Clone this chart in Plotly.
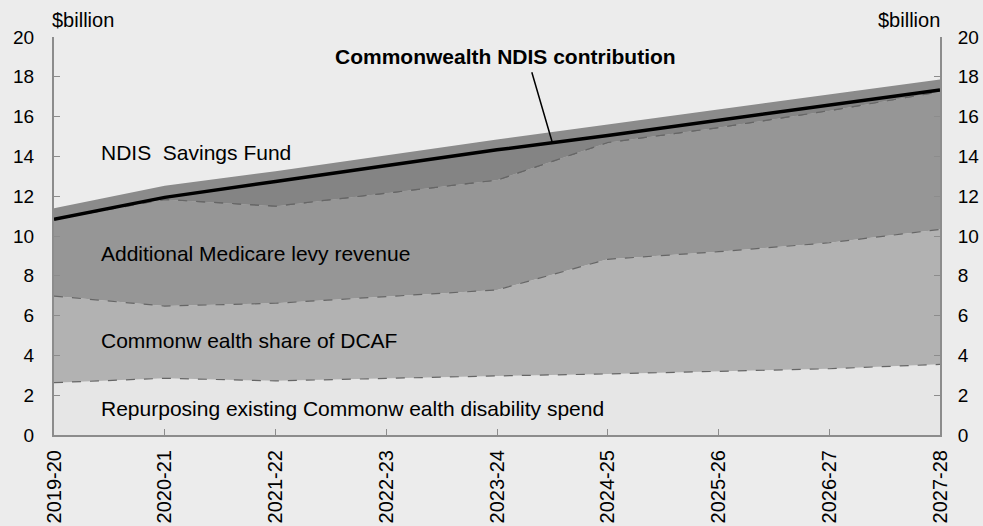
import numpy as np
import plotly.graph_objects as go

# Données ($ milliards)
annees = ['2019-20', '2020-21', '2021-22', '2022-23', '2023-24',
          '2024-25', '2025-26', '2026-27', '2027-28']
repurposing = [2.63, 2.85, 2.72, 2.85, 2.97, 3.07, 3.20, 3.33, 3.55]
dcaf = [4.35, 3.63, 3.90, 4.10, 4.32, 5.76, 6.01, 6.33, 6.78]
medicare = [3.86, 5.36, 4.88, 5.19, 5.52, 5.87, 6.24, 6.64, 6.92]
savings_fund = [0.55, 0.69, 1.75, 1.91, 2.04, 0.90, 0.90, 0.80, 0.62]
contribution = [10.84, 11.94, 12.74, 13.54, 14.33, 15.05, 15.80, 16.57, 17.34]
y_ticks = [0, 2, 4, 6, 8, 10, 12, 14, 16, 18, 20]

police = 'Liberation Sans, Arial, sans-serif'
trait = dict(color='#666666', width=1.2, dash='dash')

fig = go.Figure()

# Aires empilées
fig.add_trace(go.Scatter(x=annees, y=repurposing, stackgroup='s', mode='lines',
                         line=trait, fillcolor='#e6e6e6', name='Repurposing'))
fig.add_trace(go.Scatter(x=annees, y=dcaf, stackgroup='s', mode='lines',
                         line=trait, fillcolor='#b2b2b2', name='DCAF'))
fig.add_trace(go.Scatter(x=annees, y=medicare, stackgroup='s', mode='lines',
                         line=trait, fillcolor='#969696', name='Medicare'))
fig.add_trace(go.Scatter(x=annees, y=savings_fund, stackgroup='s', mode='lines',
                         line=dict(width=0), fillcolor='#8b8b8b', name='Savings Fund'))

# Partie du fonds sous la contribution (teinte un peu plus sombre)
haut_medicare = np.cumsum([repurposing, dcaf, medicare], axis=0)[-1]
fig.add_trace(go.Scatter(x=annees, y=haut_medicare, mode='lines',
                         line=dict(width=0), showlegend=False, hoverinfo='skip'))
fig.add_trace(go.Scatter(x=annees, y=contribution, mode='lines', fill='tonexty',
                         fillcolor='#848484', line=dict(width=0),
                         showlegend=False, hoverinfo='skip'))
# Pointillé du haut Medicare par-dessus
fig.add_trace(go.Scatter(x=annees, y=haut_medicare, mode='lines', line=trait,
                         showlegend=False, hoverinfo='skip'))

# Contribution du Commonwealth
fig.add_trace(go.Scatter(x=annees, y=contribution, mode='lines',
                         line=dict(color='black', width=3.5),
                         name='Commonwealth NDIS contribution'))

# Trace invisible pour l'axe de droite
fig.add_trace(go.Scatter(x=annees, y=contribution, yaxis='y2', mode='lines',
                         line=dict(width=0), opacity=0, showlegend=False,
                         hoverinfo='skip'))

axe_y = dict(range=[0, 20], tickvals=y_ticks, ticks='inside', ticklen=6,
             tickcolor='#8c8c8c', showline=True, linecolor='#8c8c8c',
             linewidth=2, showgrid=False, zeroline=False,
             tickfont=dict(size=19, color='black', family=police))

fig.update_layout(
    width=983, height=526,
    margin=dict(l=54, r=43, t=37, b=91),
    paper_bgcolor='#ececec', plot_bgcolor='#ececec',
    showlegend=False,
    font=dict(family=police, color='black'),
    xaxis=dict(type='category', range=[0, 8], tickangle=-90,
               ticks='inside', ticklen=6, tickcolor='#8c8c8c',
               showline=True, linecolor='#8c8c8c', linewidth=2,
               showgrid=False, automargin=False, ticklabelstandoff=5,
               tickfont=dict(size=20, color='black', family=police)),
    yaxis=dict(axe_y, side='left', automargin=False, ticklabelstandoff=14),
    yaxis2=dict(axe_y, side='right', overlaying='y', automargin=False,
                ticklabelstandoff=12),
)

# Étiquettes
labels = [
    ('NDIS\u00a0 Savings Fund', 14.2),
    ('Additional Medicare levy revenue', 9.1),
    ('Commonw ealth share of DCAF', 4.75),
    ('Repurposing existing Commonw ealth disability spend', 1.35),
]
for texte, y in labels:
    fig.add_annotation(x=0.41, y=y, text=texte, showarrow=False, xanchor='left',
                       font=dict(size=21, family=police, color='black'))

fig.add_annotation(x=4.08, y=19.0, text='<b>Commonwealth NDIS contribution</b>',
                   showarrow=False, font=dict(size=21, family=police, color='black'))
fig.add_annotation(x=4.5, y=(contribution[4] + contribution[5]) / 2, text='',
                   showarrow=True, arrowhead=0, arrowwidth=1.5, arrowcolor='black',
                   ax=-21, ay=-72)

fig.add_annotation(x=0, y=1, xref='paper', yref='paper', xshift=-4, yshift=4,
                   text='$billion', showarrow=False, xanchor='left', yanchor='bottom',
                   font=dict(size=20, family=police, color='black'))
fig.add_annotation(x=1, y=1, xref='paper', yref='paper', xshift=2, yshift=4,
                   text='$billion', showarrow=False, xanchor='right', yanchor='bottom',
                   font=dict(size=20, family=police, color='black'))

fig.write_html('out.html', config={'displayModeBar': False},
               post_script="document.body.style.margin='0px';"
                           "document.body.style.overflow='hidden';")
